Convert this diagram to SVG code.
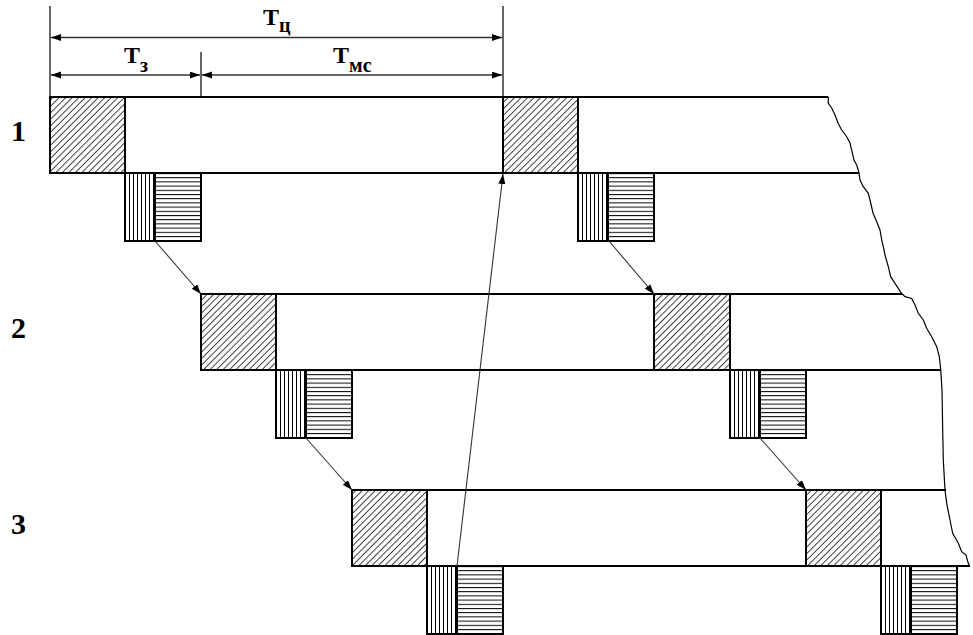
<svg xmlns="http://www.w3.org/2000/svg" width="973" height="635" viewBox="0 0 973 635">
<style>
.strip{stroke:#000;stroke-width:2;fill:none}
.box{stroke:#000;stroke-width:2}
.dim{stroke:#333;stroke-width:1.5;fill:none}
.ext{stroke:#333;stroke-width:1.5;fill:none}
.conn{stroke:#333;stroke-width:1.1;fill:none}
.edge{stroke:#000;stroke-width:1.2;fill:none}
.lbl{font-family:"Liberation Serif","Times New Roman",serif;font-weight:bold;fill:#000}
</style>
<defs>
<pattern id="diag" patternUnits="userSpaceOnUse" width="4.6" height="4.6" patternTransform="rotate(45)">
<rect width="4.6" height="4.6" fill="#fff"/>
<line x1="0.5" y1="0" x2="0.5" y2="4.6" stroke="#000" stroke-width="0.75"/>
</pattern>
<pattern id="vert" patternUnits="userSpaceOnUse" width="4" height="10">
<rect width="4" height="10" fill="#fff"/>
<line x1="0.5" y1="0" x2="0.5" y2="10" stroke="#000" stroke-width="1"/>
</pattern>
<pattern id="horz" patternUnits="userSpaceOnUse" width="10" height="4.2">
<rect width="10" height="4.2" fill="#fff"/>
<line x1="0" y1="0.5" x2="10" y2="0.5" stroke="#000" stroke-width="1"/>
</pattern>
<marker id="ah" markerUnits="userSpaceOnUse" markerWidth="11" markerHeight="8" refX="10" refY="3.5" orient="auto-start-reverse">
<path d="M0,0 L10,3.5 L0,7 Z" fill="#000"/>
</marker>
<g id="small">
<rect x="0" y="0" width="30" height="68" fill="url(#vert)" class="box"/>
<rect x="30" y="0" width="46" height="68" fill="url(#horz)" class="box"/>
</g>
</defs>
<rect width="973" height="635" fill="#fff"/>

<g id="dimensions">
<line class="ext" x1="50" y1="6" x2="50" y2="97"/>
<line class="ext" x1="503" y1="6" x2="503" y2="97"/>
<line class="ext" x1="201" y1="52" x2="201" y2="97"/>
<line class="dim" x1="51" y1="37.5" x2="502" y2="37.5" marker-start="url(#ah)" marker-end="url(#ah)"/>
<line class="dim" x1="51" y1="75" x2="200" y2="75" marker-start="url(#ah)" marker-end="url(#ah)"/>
<line class="dim" x1="202" y1="75" x2="502" y2="75" marker-start="url(#ah)" marker-end="url(#ah)"/>
<text class="lbl" x="263" y="25" font-size="24">Т<tspan font-size="20" dy="7">ц</tspan></text>
<text class="lbl" x="124" y="63" font-size="24">Т<tspan font-size="20" dy="9">з</tspan></text>
<text class="lbl" x="333" y="63" font-size="24">Т<tspan font-size="20" dy="9">мс</tspan></text>
</g>

<g id="row-labels">
<text class="lbl" x="11" y="141" font-size="30">1</text>
<text class="lbl" x="11" y="338" font-size="30">2</text>
<text class="lbl" x="11" y="534" font-size="30">3</text>
</g>

<g id="row1">
<line class="strip" x1="50" y1="97" x2="828" y2="97"/>
<line class="strip" x1="50" y1="173" x2="859" y2="173"/>
<rect id="r1-hatch1" x="50" y="97" width="75" height="76" fill="url(#diag)" class="box"/>
<rect id="r1-hatch2" x="503" y="97" width="75" height="76" fill="url(#diag)" class="box"/>
<use id="r1-small1" href="#small" x="125" y="173"/>
<use id="r1-small2" href="#small" x="578" y="173"/>
</g>

<g id="row2">
<line class="strip" x1="201" y1="294" x2="902" y2="294"/>
<line class="strip" x1="201" y1="370" x2="941" y2="370"/>
<rect id="r2-hatch1" x="201" y="294" width="75" height="76" fill="url(#diag)" class="box"/>
<rect id="r2-hatch2" x="654" y="294" width="76" height="76" fill="url(#diag)" class="box"/>
<use id="r2-small1" href="#small" x="276" y="370"/>
<use id="r2-small2" href="#small" x="730" y="370"/>
</g>

<g id="row3">
<line class="strip" x1="352" y1="490" x2="946" y2="490"/>
<line class="strip" x1="352" y1="566" x2="970" y2="566"/>
<rect id="r3-hatch1" x="352" y="490" width="75" height="76" fill="url(#diag)" class="box"/>
<rect id="r3-hatch2" x="806" y="490" width="75" height="76" fill="url(#diag)" class="box"/>
<use id="r3-small1" href="#small" x="427" y="566"/>
<use id="r3-small2" href="#small" x="881" y="566"/>
</g>

<g id="torn-edge">
<path class="edge" d="M828.3,96.7 L828.3,103.3 L831.7,108 L835,115 L838,123 L841.7,130 L846.7,136.7 L850,143 L852,151.7 L854,160 L856.7,165 L859,172.7 L860,180 L863.3,186.7 L868.3,193.3 L870.7,203 L873,213 L876.7,221.7 L880,230 L881.7,240 L883.3,246.7 L885,255 L888.3,266.7 L890.7,276.7 L895,283.3 L901.7,293.5 L905,296.7 L911.7,298.5 L915,305 L918.3,313.3 L923.3,320 L926.7,328.3 L931.7,336.7 L936.7,346.7 L939.3,356.7 L940.7,369.3 L942,390 L942.7,430 L943.3,460 L945,490 L946.7,503.3 L950,520 L952.7,533.3 L958.3,543.3 L961.7,551.7 L966,555 L968.3,563.3 L969.3,566"/>
</g>

<g id="connectors">
<line class="conn" x1="155" y1="241" x2="201" y2="294" marker-end="url(#ah)"/>
<line class="conn" x1="609" y1="241" x2="654" y2="294" marker-end="url(#ah)"/>
<line class="conn" x1="306" y1="438" x2="352" y2="490" marker-end="url(#ah)"/>
<line class="conn" x1="760" y1="438" x2="806" y2="490" marker-end="url(#ah)"/>
<line class="conn" x1="457" y1="566" x2="503" y2="174" marker-end="url(#ah)"/>
</g>
</svg>
